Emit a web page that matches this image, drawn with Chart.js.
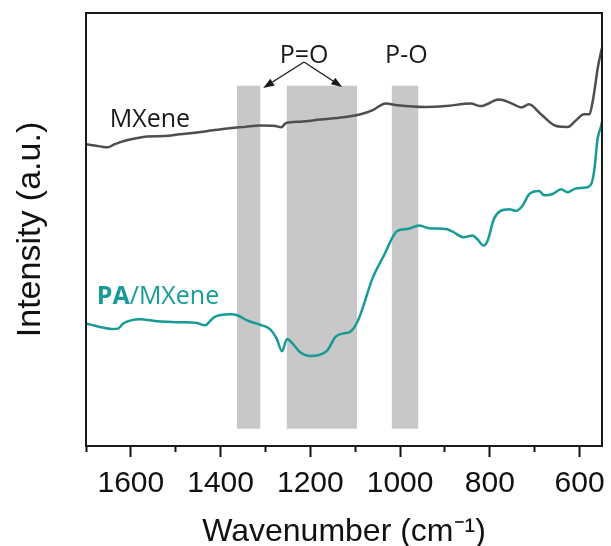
<!DOCTYPE html>
<html>
<head>
<meta charset="utf-8">
<script src="https://cdn.jsdelivr.net/npm/chart.js@4.4.1/dist/chart.umd.min.js"></script>
<style>
  html, body { margin: 0; padding: 0; background: #fff; }
</style>
</head>
<body>
<canvas id="chart" width="611" height="546"></canvas>
<script>
// FTIR spectra, wavenumber (cm-1) vs intensity (a.u.)
const mxeneWave = [1700, 1669, 1652, 1636, 1620, 1591, 1564, 1524, 1491, 1453, 1417, 1379, 1345, 1312, 1278, 1265, 1254, 1222, 1178, 1126, 1088, 1062, 1032, 1006, 943, 898, 843, 820, 780, 753, 729, 713, 686, 652, 626, 608, 590, 579, 570, 559, 550];
const mxeneInt = [69.7, 69.2, 69.0, 69.7, 70.3, 71.0, 71.5, 71.6, 72.0, 72.4, 72.9, 73.4, 73.7, 74.0, 73.9, 73.6, 74.6, 74.9, 75.4, 75.9, 76.6, 77.5, 79.1, 78.7, 78.3, 78.5, 79.1, 78.5, 80.0, 79.2, 78.2, 78.9, 76.6, 73.9, 73.7, 75.2, 76.6, 76.6, 80.0, 87.6, 92.0];

const paWave = [1700, 1669, 1640, 1629, 1617, 1580, 1540, 1491, 1453, 1435, 1415, 1379, 1363, 1341, 1312, 1290, 1275, 1263, 1252, 1240, 1222, 1200, 1182, 1162, 1144, 1126, 1111, 1095, 1081, 1062, 1036, 1006, 984, 958, 936, 898, 883, 858, 839, 828, 814, 805, 791, 776, 757, 742, 727, 712, 690, 679, 660, 641, 627, 608, 586, 574, 567, 560, 552, 550];
const paInt = [28.3, 27.5, 27.0, 27.1, 28.3, 29.3, 28.8, 28.6, 28.4, 27.9, 29.7, 30.4, 30.2, 29.0, 28.0, 27.0, 24.8, 21.9, 24.7, 23.7, 21.6, 20.8, 21.0, 22.1, 25.2, 26.0, 26.4, 28.7, 32.6, 38.6, 44.0, 49.7, 50.1, 50.9, 50.3, 50.1, 49.5, 48.2, 48.6, 47.8, 46.3, 47.4, 52.4, 54.3, 54.7, 54.3, 55.5, 58.2, 58.9, 57.9, 58.2, 59.3, 58.6, 59.5, 59.7, 60.5, 63.9, 70.8, 73.9, 74.9];

// x axis ticks
const majorTicks = [1600, 1400, 1200, 1000, 800, 600];
const minorTicks = [1700, 1500, 1300, 1100, 900, 700];

// shaded bands (wavenumber from, to)
const bandRanges = [[1364, 1311], [1253, 1096], [1019, 959]];
const bandTop = 83.2;
const bandBottom = 4;

// text notes
const noteText = ['MXene', 'P=O', 'P-O'];
const noteWave = [1647, 1214, 986];
const noteInt = [73.6, 88.5, 88.4];
const noteAlign = ['left', 'center', 'center'];
const paLabel = ['PA', '/MXene'];
const paLabelWave = 1676;
const paLabelInt = 32.9;

// arrows from P=O to the two bands
const arrowStart = [1214, 88.7];
const arrowEnds = [[1305, 82.7], [1129, 82.9]];

const teal = 'rgb(24, 155, 150)';
const grey = 'rgb(78, 78, 78)';
const noteFont = '"Open Sans", sans-serif';
const axisFont = '"Liberation Sans", Arial, sans-serif';

const bandSets = bandRanges.map(r => ({
    data: [{ x: r[0], y: bandTop }, { x: r[1], y: bandTop }],
    borderWidth: 0,
    pointRadius: 0,
    backgroundColor: 'rgb(200, 200, 200)',
    fill: { value: bandBottom },
    order: 3
}));

const notesPlugin = {
    id: 'notes',
    afterDatasetsDraw(chart) {
        const { ctx, chartArea, scales: { x, y } } = chart;
        ctx.save();

        // frame
        ctx.strokeStyle = '#1a1a1a';
        ctx.lineWidth = 2;
        ctx.strokeRect(chartArea.left, chartArea.top, chartArea.right - chartArea.left, chartArea.bottom - chartArea.top);

        // labels
        ctx.textBaseline = 'alphabetic';
        ctx.font = '25px ' + noteFont;
        ctx.fillStyle = '#1a1a1a';
        noteText.forEach((t, i) => {
            ctx.textAlign = noteAlign[i];
            ctx.fillText(t, x.getPixelForValue(noteWave[i]), y.getPixelForValue(noteInt[i]));
        });

        ctx.textAlign = 'left';
        ctx.fillStyle = teal;
        let px = x.getPixelForValue(paLabelWave);
        const py = y.getPixelForValue(paLabelInt);
        ctx.font = 'bold 25px ' + noteFont;
        ctx.fillText(paLabel[0], px, py);
        px += ctx.measureText(paLabel[0]).width;
        ctx.font = '25px ' + noteFont;
        ctx.fillText(paLabel[1], px, py);

        // arrows
        const sx = x.getPixelForValue(arrowStart[0]);
        const sy = y.getPixelForValue(arrowStart[1]);
        ctx.strokeStyle = '#1a1a1a';
        ctx.fillStyle = '#1a1a1a';
        ctx.lineWidth = 1.3;
        arrowEnds.forEach(e => {
            const ex = x.getPixelForValue(e[0]);
            const ey = y.getPixelForValue(e[1]);
            const ang = Math.atan2(ey - sy, ex - sx);
            const len = 11, half = 4;
            const bx = ex - len * Math.cos(ang);
            const by = ey - len * Math.sin(ang);
            ctx.beginPath();
            ctx.moveTo(sx, sy);
            ctx.lineTo(bx, by);
            ctx.stroke();
            ctx.beginPath();
            ctx.moveTo(ex, ey);
            ctx.lineTo(bx - half * Math.sin(ang), by + half * Math.cos(ang));
            ctx.lineTo(bx + half * Math.sin(ang), by - half * Math.cos(ang));
            ctx.closePath();
            ctx.fill();
        });
        ctx.restore();
    }
};

const config = {
    type: 'line',
    data: {
        datasets: [
            ...bandSets,
            {
                label: 'MXene',
                data: mxeneWave.map((w, i) => ({ x: w, y: mxeneInt[i] })),
                borderColor: grey,
                borderWidth: 2.5,
                pointRadius: 0,
                cubicInterpolationMode: 'monotone',
                fill: false,
                order: 1
            },
            {
                label: 'PA/MXene',
                data: paWave.map((w, i) => ({ x: w, y: paInt[i] })),
                borderColor: teal,
                borderWidth: 2.5,
                pointRadius: 0,
                cubicInterpolationMode: 'monotone',
                fill: false,
                order: 1
            }
        ]
    },
    options: {
        responsive: false,
        animation: false,
        layout: { padding: { top: 13, right: 9, left: 0, bottom: -2 } },
        plugins: {
            legend: { display: false },
            tooltip: { enabled: false }
        },
        scales: {
            x: {
                type: 'linear',
                position: 'bottom',
                reverse: true,
                min: 550,
                max: 1700,
                weight: 1,
                afterBuildTicks: s => { s.ticks = majorTicks.map(v => ({ value: v })); },
                afterFit: s => { s.paddingRight = 0; },
                ticks: {
                    autoSkip: false,
                    maxRotation: 0,
                    padding: 12,
                    color: '#111',
                    callback: v => String(v),
                    font: { family: axisFont, size: 30, lineHeight: 1 }
                },
                grid: { drawOnChartArea: false, tickLength: 11, tickWidth: 2, tickColor: '#111' },
                border: { display: false },
                title: {
                    display: true,
                    text: 'Wavenumber (cm⁻¹)',
                    color: '#111',
                    font: { family: axisFont, size: 32, lineHeight: 1 },
                    padding: { top: 5, bottom: 0 }
                }
            },
            xMinor: {
                type: 'linear',
                position: 'bottom',
                reverse: true,
                min: 550,
                max: 1700,
                weight: 0,
                afterBuildTicks: s => { s.ticks = minorTicks.map(v => ({ value: v })); },
                afterFit: s => { s.height = 0; },
                ticks: { display: false },
                grid: { drawOnChartArea: false, tickLength: 6, tickWidth: 2, tickColor: '#111' },
                border: { display: false }
            },
            y: {
                min: 0,
                max: 100,
                ticks: { display: false },
                grid: { display: false },
                border: { display: false },
                title: {
                    display: true,
                    text: 'Intensity (a.u.)',
                    color: '#111',
                    font: { family: axisFont, size: 34, lineHeight: 1 },
                    padding: { top: 14, bottom: 30 }
                }
            }
        }
    },
    plugins: [notesPlugin]
};

window.myChart = new Chart(document.getElementById('chart'), config);
</script>
</body>
</html>
